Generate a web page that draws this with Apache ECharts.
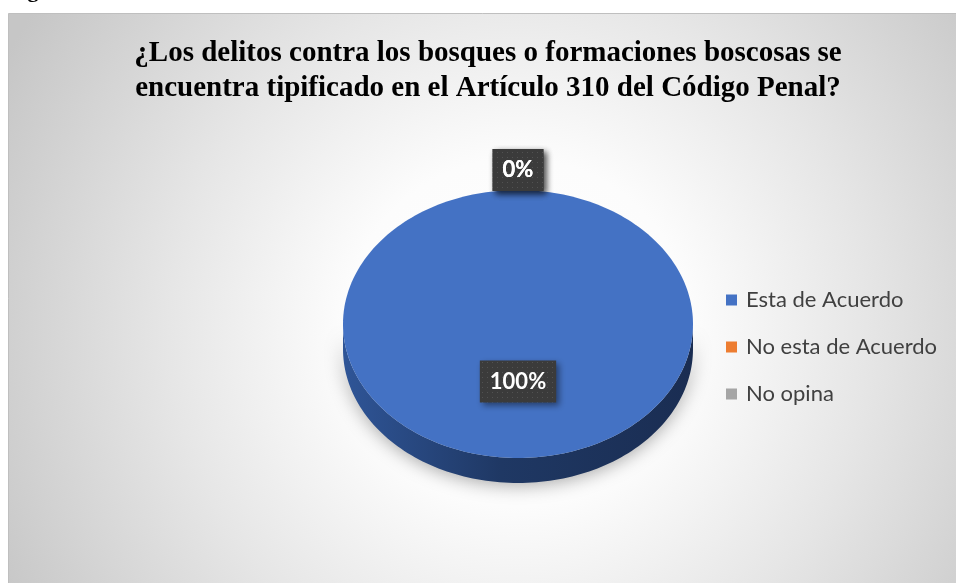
<!DOCTYPE html>
<html>
<head>
<meta charset="utf-8">
<script src="https://cdn.jsdelivr.net/npm/echarts@6/dist/echarts.min.js"></script>
<style>
  html, body { margin: 0; padding: 0; background: #fff; }
  #main { width: 956px; height: 583px; }
</style>
</head>
<body>
<div id="main"></div>
<script>
var myChart = echarts.init(document.getElementById('main'));

// datos
const titleLines = ['¿Los delitos contra los bosques o formaciones boscosas se', 'encuentra tipificado en el Artículo 310 del Código Penal?'];
const categories = ['Esta de Acuerdo', 'No esta de Acuerdo', 'No opina'];
const values = [100, 0, 0];
const colors = ['#4472C4', '#ED7D31', '#A5A5A5'];

// pie geometry (elliptical, Excel 3D look)
const pie = { cx: 518, cy: 324, rx: 175, ry: 134, depth: 25 };
const labelFont = 'bold 22px Lato';

// dotted label background
let dots = document.createElement('canvas');
dots.width = 5; dots.height = 5;
let dctx = dots.getContext('2d');
dctx.fillStyle = '#3b3b3b';
dctx.fillRect(0, 0, 5, 5);
dctx.fillStyle = '#525252';
dctx.fillRect(2, 2, 1, 1);

let measure = document.createElement('canvas').getContext('2d');
measure.font = labelFont;

let pt = function(theta, dy) {
    return [pie.cx + pie.rx * Math.sin(theta), pie.cy - pie.ry * Math.cos(theta) + dy];
}

let arc = function(a0, a1, dy) {
    let n = Math.max(2, Math.ceil(Math.abs(a1 - a0) / (Math.PI * 2) * 240));
    let arr = [];
    for(let i = 0; i <= n; i++) {
        arr.push(pt(a0 + (a1 - a0) * i / n, dy));
    }
    return arr;
}

let renderSlice = function(s) {
    return function(params, api) {
        let total = values.reduce((a, b) => a + b, 0);
        let v = api.value(0);
        let before = 0;
        for(let i = 0; i < s; i++) before += values[i];
        let start = before / total * Math.PI * 2;
        let end = (before + v) / total * Math.PI * 2;
        let children = [];

        if(end > start) {
            // side face (front half only)
            let a0 = Math.max(start, Math.PI / 2);
            let a1 = Math.min(end, Math.PI * 3 / 2);
            if(a1 > a0) {
                children.push({
                    type: 'polygon',
                    shape: { points: arc(a0, a1, 0).concat(arc(a1, a0, pie.depth)) },
                    style: {
                        fill: new echarts.graphic.LinearGradient(0, 0, 1, 0, [
                            { offset: 0, color: '#2f5597' },
                            { offset: 0.45, color: '#1f3864' },
                            { offset: 1, color: '#1a2d52' }
                        ]),
                        shadowBlur: 18,
                        shadowColor: 'rgba(0,0,0,0.35)',
                        shadowOffsetY: 2
                    }
                });
            }
            let top = arc(start, end, 0);
            if(end - start < Math.PI * 2 - 1e-6) top = [[pie.cx, pie.cy]].concat(top);
            children.push({
                type: 'polygon',
                shape: { points: top },
                style: { fill: api.visual('color') }
            });
        }

        // data label
        let mid = (start + end) / 2;
        let frac = v / total;
        let pos = frac > 0.1
            ? [pie.cx + 0.43 * pie.rx * Math.sin(mid), pie.cy - 0.43 * pie.ry * Math.cos(mid)]
            : [pie.cx + (pie.rx + 20) * Math.sin(mid), pie.cy - (pie.ry + 20) * Math.cos(mid)];
        let txt = Math.round(frac * 100) + '%';
        let bw = measure.measureText(txt).width + 20;
        let bh = 42;
        children.push({
            type: 'rect',
            shape: { x: pos[0] - bw / 2, y: pos[1] - bh / 2, width: bw, height: bh },
            style: {
                fill: { image: dots, repeat: 'repeat' },
                shadowBlur: 6,
                shadowColor: 'rgba(0,0,0,0.45)',
                shadowOffsetX: 3,
                shadowOffsetY: 3
            },
            z2: 10
        });
        children.push({
            type: 'text',
            x: pos[0],
            y: pos[1],
            style: {
                text: txt,
                fill: '#fff',
                font: labelFont,
                align: 'center',
                verticalAlign: 'middle'
            },
            z2: 11
        });
        return { type: 'group', children: children };
    }
}

option = {
    backgroundColor: '#fff',
    animation: false,
    graphic: [
        {
            type: 'text',
            left: 8,
            top: -20,
            style: {
                text: 'Figura',
                font: 'bold 22px "Liberation Serif"',
                fill: '#000'
            }
        },
        {
            type: 'rect',
            shape: { x: 8.5, y: 13.5, width: 960, height: 580 },
            style: {
                fill: new echarts.graphic.RadialGradient(0.53, 0.55, 1, [
                    { offset: 0, color: '#ffffff' },
                    { offset: 0.3, color: '#fcfcfc' },
                    { offset: 0.6, color: '#e6e6e6' },
                    { offset: 1, color: '#c6c6c6' }
                ]),
                stroke: '#bfbfbf',
                lineWidth: 1
            },
            z: -10
        }
    ],
    title: {
        text: titleLines.join('\n'),
        left: 488,
        top: 36,
        padding: 0,
        textAlign: 'center',
        textStyle: {
            fontFamily: 'Liberation Serif',
            fontWeight: 'bold',
            fontSize: 29,
            lineHeight: 35,
            color: '#000'
        }
    },
    legend: {
        data: categories,
        orient: 'vertical',
        left: 721,
        top: 283,
        icon: 'rect',
        itemWidth: 11,
        itemHeight: 11,
        itemGap: 23,
        selectedMode: false,
        textStyle: {
            fontFamily: 'Lato',
            fontSize: 22,
            lineHeight: 24,
            color: '#404040',
            padding: [0, 0, 0, 4]
        }
    },
    series: categories.map((name, s) => ({
        type: 'custom',
        name: name,
        coordinateSystem: 'none',
        silent: true,
        itemStyle: { color: colors[s] },
        data: [[values[s]]],
        renderItem: renderSlice(s)
    }))
};

myChart.setOption(option);
</script>
</body>
</html>
